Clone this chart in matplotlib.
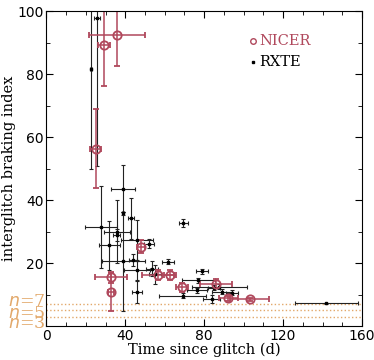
import numpy as np
import matplotlib.pyplot as plt
from matplotlib.ticker import MultipleLocator

# NICER measurements: time since glitch (d), braking index, errors
nicer_t = [25.0, 29.0, 35.8, 48.0, 32.7, 32.7, 56.5, 62.7, 68.6, 86.0, 92.3, 103.0]
nicer_n = [56.3, 89.3, 92.5, 25.2, 15.5, 10.9, 16.2, 16.2, 12.3, 13.5, 8.9, 8.5]
nicer_terr = [2.8, 3.0, 14.0, 2.0, 8.0, 1.5, 8.0, 3.0, 3.0, 8.0, 5.0, 10.0]
nicer_nerr = [12.5, 13.0, 10.0, 2.0, 1.8, 6.0, 1.5, 1.5, 1.5, 1.5, 0.8, 0.5]

# RXTE measurements
rxte_t = [22.6, 25.8, 27.8, 31.9, 35.6, 35.8, 39.0, 39.0, 39.0, 42.9,
          45.8, 45.8, 45.8, 52.2, 53.4, 55.1, 61.8, 69.4, 78.8, 77.0,
          87.7, 76.5, 89.0, 94.0, 69.0, 83.8, 141.9, 85.0, 44.0]
rxte_n = [81.5, 97.9, 31.6, 25.7, 28.9, 30.0, 43.7, 35.8, 20.6, 34.2,
          27.3, 17.8, 10.9, 26.2, 18.3, 16.5, 20.4, 32.8, 17.5, 14.6,
          12.5, 11.4, 10.9, 10.6, 9.6, 8.6, 7.2, 12.2, 21.0]
rxte_terr = [0.5, 1.5, 8.0, 5.4, 1.6, 6.8, 6.0, 0.5, 11.0, 1.5,
             8.0, 6.5, 2.5, 2.5, 3.0, 3.0, 3.0, 2.2, 3.0, 8.5,
             14.0, 5.0, 5.0, 3.0, 12.0, 4.3, 16.0, 3.0, 2.0]
rxte_nerr = [31.5, 47.0, 13.0, 7.8, 2.0, 10.0, 7.6, 0.5, 15.7, 6.5,
             6.4, 3.0, 3.5, 1.5, 2.5, 3.0, 0.8, 1.2, 0.8, 0.8,
             0.8, 0.8, 0.8, 0.8, 0.8, 1.2, 0.3, 0.8, 2.0]

n_lines = [7, 5, 3]
# vertical nudge of each label (points) so the stacked labels stay readable
n_label_shift = [1.7, -1.9, -4.7]

red = '#b0485c'
tan = '#e2a86a'

fig = plt.figure(figsize=(3.74, 3.6), dpi=100)
ax = fig.add_axes([0.124, 0.094, 0.844, 0.875])

for n, dy in zip(n_lines, n_label_shift):
    ax.axhline(n, color=tan, ls=':', lw=1.0)
    ax.annotate('$n$=%d' % n, xy=(0, n), xytext=(-1, dy), textcoords='offset points',
                color=tan, fontsize=12.5, family='DejaVu Serif',
                ha='right', va='center', annotation_clip=False)

ax.errorbar(rxte_t, rxte_n, xerr=rxte_terr, yerr=rxte_nerr, fmt='s', ms=2,
            color='black', ecolor='#222222', elinewidth=0.8, capsize=1.5,
            capthick=0.8)
ax.errorbar(nicer_t, nicer_n, xerr=nicer_terr, yerr=nicer_nerr, fmt='o', ms=6,
            mfc='none', mec=red, mew=1.3, ecolor=red, elinewidth=1.1,
            capsize=2, capthick=1.1)

ax.plot([0.655], [0.905], 'o', ms=4, mfc='none', mec=red, mew=1.0,
        transform=ax.transAxes)
ax.text(0.675, 0.905, 'NICER', color=red, fontsize=10.5, family='DejaVu Serif',
        va='center', transform=ax.transAxes)
ax.plot([0.655], [0.84], 's', ms=2, color='black', transform=ax.transAxes)
ax.text(0.675, 0.84, 'RXTE', color='black', fontsize=10.5, family='DejaVu Serif',
        va='center', transform=ax.transAxes)

ax.set_xlim(0, 160)
ax.set_ylim(0, 100)
ax.xaxis.set_major_locator(MultipleLocator(40))
ax.xaxis.set_minor_locator(MultipleLocator(10))
ax.yaxis.set_minor_locator(MultipleLocator(10))
ax.set_yticks([20, 40, 60, 80, 100])
ax.tick_params(which='both', direction='in', top=True, right=True, labelsize=10,
               pad=2)
ax.tick_params(which='major', length=5)
ax.tick_params(which='minor', length=3)

ax.set_xlabel('Time since glitch (d)', family='DejaVu Serif', fontsize=10.5,
              labelpad=0)
ax.set_ylabel('interglitch braking index', family='DejaVu Serif', fontsize=10.5,
              labelpad=1)

fig.savefig('out.png', dpi=100)
